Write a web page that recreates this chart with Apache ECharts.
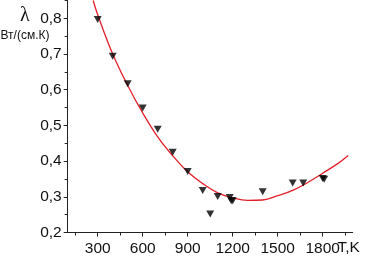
<!DOCTYPE html>
<html><head><meta charset="utf-8">
<script src="https://cdn.jsdelivr.net/npm/echarts@6/dist/echarts.min.js"></script>
<style>html,body{margin:0;padding:0;background:#fff}#c{width:371px;height:257px}</style>
</head><body><div id="c"></div>
<script>
// measured points (T, K ; lambda, W/(cm K))
const pointT = [300, 400, 500, 600, 700, 800, 900, 1000, 1050, 1100, 1180, 1190, 1200, 1400, 1600, 1670, 1800, 1810];
const pointL = [0.797, 0.694, 0.617, 0.549, 0.489, 0.425, 0.371, 0.318, 0.252, 0.301, 0.298, 0.289, 0.289, 0.314, 0.339, 0.339, 0.351, 0.349];
// fitted curve
const curveT = [270, 300, 400, 500, 600, 700, 800, 900, 1000, 1100, 1200, 1300, 1400, 1500, 1600, 1700, 1800, 1900, 1970];
const curveL = [0.85, 0.81, 0.70, 0.612, 0.535, 0.468, 0.415, 0.370, 0.337, 0.311, 0.297, 0.290, 0.291, 0.303, 0.318, 0.340, 0.366, 0.393, 0.416];
const xLabels = [300, 600, 900, 1200, 1500, 1800];
const xMinorTicks = [150, 450, 750, 1050, 1350, 1650, 1950];
const yLabels = [0.2, 0.3, 0.4, 0.5, 0.6, 0.7, 0.8];
const yMinorTicks = [0.25, 0.35, 0.45, 0.55, 0.65, 0.75, 0.85];

const chart = echarts.init(document.getElementById('c'), null, {renderer: 'canvas'});
const axisColor = '#222';
const font = 'Liberation Sans, Arial, sans-serif';
const baseX = {
  type: 'value', min: 100, max: 2000, gridIndex: 0, position: 'bottom',
  splitLine: {show: false}
};
const baseY = {
  type: 'value', min: 0.2, max: 0.85, gridIndex: 0, position: 'left',
  splitLine: {show: false}
};
chart.setOption({
  animation: false,
  grid: {left: 67.7, right: 18.3, top: 0.5, bottom: 24.5, containLabel: false},
  xAxis: [
    Object.assign({}, baseX, {
      axisLine: {show: true, lineStyle: {color: axisColor, width: 1}},
      axisTick: {show: true, inside: false, length: 4, customValues: xLabels, lineStyle: {color: axisColor}},
      axisLabel: {show: true, customValues: xLabels, margin: 8, color: '#111', fontSize: 15.5, fontFamily: font,
        formatter: v => String(Math.round(v))}
    }),
    Object.assign({}, baseX, {
      axisLine: {show: false},
      axisTick: {show: true, inside: false, length: 3, customValues: xMinorTicks, lineStyle: {color: axisColor}},
      axisLabel: {show: false}
    })
  ],
  yAxis: [
    Object.assign({}, baseY, {
      axisLine: {show: true, lineStyle: {color: axisColor, width: 1}},
      axisTick: {show: true, inside: false, length: 4, customValues: yLabels, lineStyle: {color: axisColor}},
      axisLabel: {show: true, customValues: yLabels, margin: 6, color: '#111', fontSize: 15.5, fontFamily: font,
        formatter: v => v.toFixed(1).replace('.', ',')}
    }),
    Object.assign({}, baseY, {
      axisLine: {show: false},
      axisTick: {show: true, inside: false, length: 3, customValues: yMinorTicks, lineStyle: {color: axisColor}},
      axisLabel: {show: false}
    })
  ],
  graphic: [
    {type: 'text', left: 20, top: 6, style: {text: 'λ', fontSize: 20, fontFamily: 'Liberation Serif, Times New Roman, serif', fill: '#111'}},
    {type: 'text', left: 0.5, top: 30, style: {text: 'Вт/(см.К)', fontSize: 12, fontFamily: font, fill: '#111'}},
    {type: 'text', left: 337.5, top: 240, style: {text: 'T,K', fontSize: 15.5, fontFamily: font, fill: '#111'}}
  ],
  series: [
    {
      type: 'line', xAxisIndex: 0, yAxisIndex: 0,
      data: curveT.map((t, i) => [t, curveL[i]]),
      smooth: 0.4, showSymbol: false, symbol: 'none',
      lineStyle: {color: '#e3202a', width: 1.3}, z: 2
    },
    {
      type: 'scatter', xAxisIndex: 0, yAxisIndex: 0,
      data: pointT.map((t, i) => [t, pointL[i]]),
      symbol: 'triangle', symbolRotate: 180, symbolSize: [8, 7],
      itemStyle: {color: '#000'}, z: 3
    }
  ]
});
</script></body></html>
